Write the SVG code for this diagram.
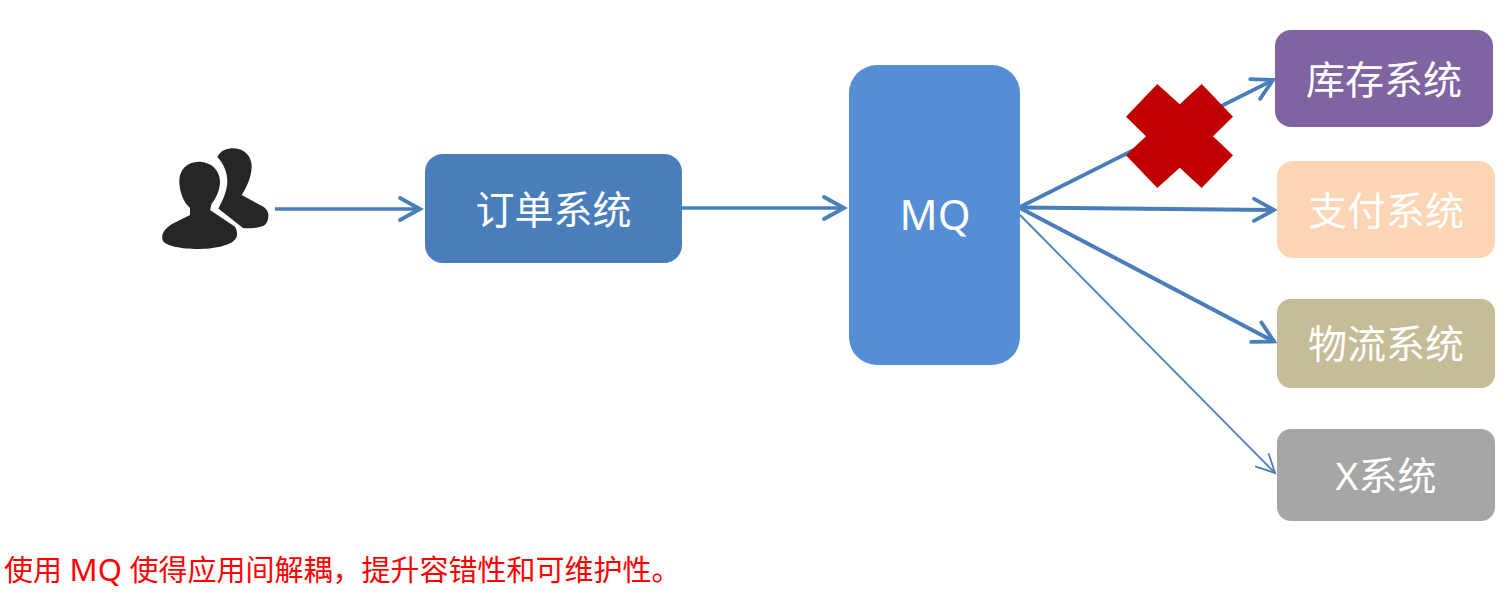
<svg xmlns="http://www.w3.org/2000/svg" width="1511" height="605" viewBox="0 0 1511 605">
<style>
text{font-family:"Noto Sans","Noto Sans CJK SC",sans-serif}
.n{font-size:39px;fill:#fff;text-anchor:middle}
.c{fill:none;stroke:#4a7ebb;stroke-width:3.4}
.note{font-size:29px;fill:#f00}
</style>
<defs>
<marker id="a" markerUnits="userSpaceOnUse" orient="auto" overflow="visible" markerWidth="30" markerHeight="30" refX="0" refY="0" viewBox="-25 -15 30 30"><path d="M-20-11 0 0-20 11" fill="none" stroke="#4a7ebb" stroke-width="3.8" stroke-linecap="round"/></marker>
<marker id="b" markerUnits="userSpaceOnUse" orient="auto" overflow="visible" markerWidth="30" markerHeight="30" refX="0" refY="0" viewBox="-25 -15 30 30"><path d="M-18-9 0 0-18 9" fill="none" stroke="#4a7ebb" stroke-width="1.8" stroke-linecap="round"/></marker>
</defs>
<g id="connectors">
<path class="c" d="M275 209H420" marker-end="url(#a)"/>
<path class="c" d="M682 208H844" marker-end="url(#a)"/>
<path class="c" style="stroke-width:3.8" d="M1020 207 1273 80" marker-end="url(#a)"/>
<path class="c" style="stroke-width:3.8" d="M1020 207.500 1274 210" marker-end="url(#a)"/>
<path class="c" style="stroke-width:4" d="M1020 208 1274 341.500" marker-end="url(#a)"/>
<path class="c" style="stroke-width:1.8" d="M1020 215 1275 473" marker-end="url(#b)"/>
</g>
<g id="users" fill="#262626">
<path d="M217.300 157C221 150 227 148.300 233.300 148.300 245 148.300 252 157 251.700 167 251.500 176 247 187 241.700 195L263 206.500C267 209 269 213 268.300 217 268 221 266 225 263 226 257 228 250 228.500 243.300 228.300L218.300 208.500C223 200 227.500 190 227.300 180 227 171 223 163 217.300 157Z"/>
<path d="M198.500 161.700C212 161.700 220 171 220 182 220 191 215 200 211.700 203.500L210 210 235 226.700C237 230 237.500 234 236.700 237 233 246 212 249 198 249 182 249 166 246 163 241 160.500 235 164 229 172 224L190 215 190 208C184 203 179.300 192 179.300 181 179.300 170 187 161.700 198.500 161.700Z"/>
</g>
<g id="order"><rect x="425" y="154" width="257" height="109" rx="18" fill="#4a7ebb"/><text class="n" x="553.500" y="224">订单系统</text></g>
<g id="mq"><rect x="849" y="65" width="171" height="300" rx="28" fill="#558ed5"/><text class="n" style="font-size:42px" x="935" y="230">MQ</text></g>
<g id="stock"><rect x="1275" y="30" width="218" height="97" rx="16" fill="#8064a2"/><text class="n" x="1384" y="94">库存系统</text></g>
<g id="pay"><rect x="1277" y="161" width="218" height="97" rx="16" fill="#fcd5b5"/><text class="n" x="1386" y="225">支付系统</text></g>
<g id="logistics"><rect x="1277" y="299" width="218" height="89" rx="14" fill="#c4bd97"/><text class="n" x="1386" y="358">物流系统</text></g>
<g id="x"><rect x="1277" y="429" width="218" height="92" rx="14" fill="#a6a6a6"/><text class="n" x="1386" y="490">X系统</text></g>
<polygon id="cross" fill="#c00000" points="1157.300,84 1179.700,104.300 1201.700,84 1233,116.700 1213,136.300 1233,155.300 1201.700,188 1179.700,167.700 1157.300,188 1126,155.300 1146,136.300 1126,116.700"/>
<text class="note" x="4" y="581">使用 <tspan font-size="31">MQ</tspan> 使得应用间解耦，提升容错性和可维护性。</text>
</svg>
